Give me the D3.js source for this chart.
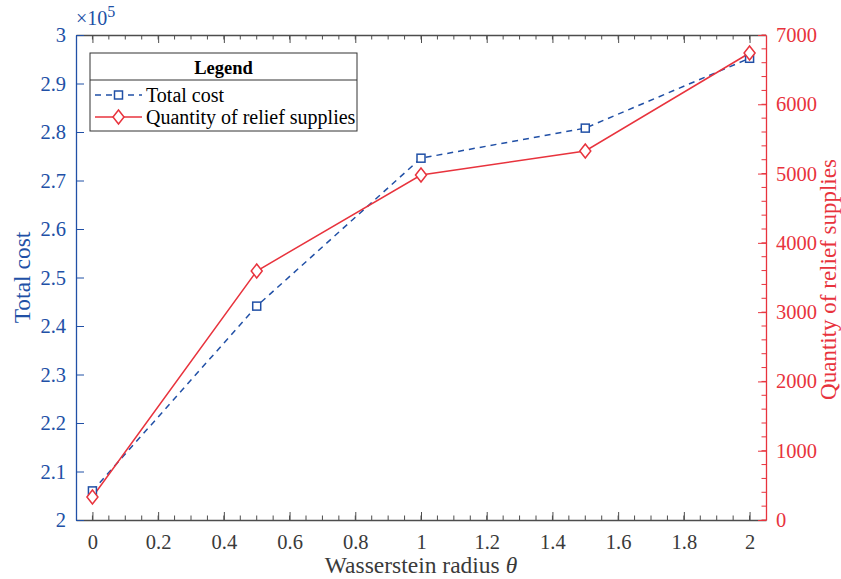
<!DOCTYPE html>
<html>
<head>
<meta charset="utf-8">
<script src="https://cdn.jsdelivr.net/npm/d3@7"></script>
<style>
  body { margin: 0; background: #fff; }
  text { font-family: "Liberation Serif", "Times New Roman", Tinos, "DejaVu Serif", serif; }
</style>
</head>
<body>
<div id="chart"></div>
<script>
// data
const radius = [0, 0.5, 1, 1.5, 2];
const totalCost = [2.06, 2.441, 2.746, 2.808, 2.952];   // x 10^5
const quantity = [332, 3594, 4979, 5326, 6740];
const xTicks = [0, 0.2, 0.4, 0.6, 0.8, 1, 1.2, 1.4, 1.6, 1.8, 2];
const leftTicks = [2, 2.1, 2.2, 2.3, 2.4, 2.5, 2.6, 2.7, 2.8, 2.9, 3];
const rightTicks = [0, 1000, 2000, 3000, 4000, 5000, 6000, 7000];

const BLUE = "#2150a6";
const RED = "#e8333d";
const GREY = "#4d4d4d";
const FONT = "'Liberation Serif', 'Times New Roman', Tinos, 'DejaVu Serif', serif";

const width = 841, height = 579;
const margin = {left: 76, right: 75, top: 35, bottom: 59};
const innerW = width - margin.left - margin.right;
const innerH = height - margin.top - margin.bottom;

const svg = d3.select("#chart").append("svg")
  .attr("width", width)
  .attr("height", height);

const g = svg.append("g")
  .attr("transform", `translate(${margin.left},${margin.top})`);

const x = d3.scaleLinear().domain([-0.05, 2.05]).range([0, innerW]);
const yL = d3.scaleLinear().domain([2, 3]).range([innerH, 0]);
const yR = d3.scaleLinear().domain([0, 7000]).range([innerH, 0]);

// x minor ticks, bottom and top
const xMinor = d3.range(0, 2.0001, 0.05);

function styleAxis(sel, color)
{
  sel.attr("font-family", null).attr("font-size", null);
  sel.select(".domain").attr("stroke", color).attr("stroke-width", 1.3);
  sel.selectAll(".tick line").attr("stroke", color);
  sel.selectAll(".tick text").attr("fill", color)
    .attr("font-family", FONT)
    .attr("font-size", 20.5);
}

// BOTTOM AXIS
const xBottom = g.append("g")
  .attr("transform", `translate(0,${innerH})`)
  .call(d3.axisBottom(x).tickValues(xTicks).tickSize(-8).tickSizeOuter(0).tickPadding(14)
    .tickFormat(d3.format("")));
styleAxis(xBottom, GREY);
xBottom.selectAll(".tick text").attr("fill", "#3a3a3a");

g.append("g")
  .attr("transform", `translate(0,${innerH})`)
  .selectAll("line")
  .data(xMinor)
  .join("line")
  .attr("x1", d => x(d)).attr("x2", d => x(d))
  .attr("y1", 0).attr("y2", -4.5)
  .attr("stroke", GREY);

// TOP AXIS
const xTop = g.append("g")
  .call(d3.axisTop(x).tickValues(xTicks).tickSize(-8).tickSizeOuter(0).tickFormat(""));
styleAxis(xTop, GREY);

g.append("g")
  .selectAll("line")
  .data(xMinor)
  .join("line")
  .attr("x1", d => x(d)).attr("x2", d => x(d))
  .attr("y1", 0).attr("y2", 4.5)
  .attr("stroke", GREY);

// LEFT AXIS
const yLeft = g.append("g")
  .call(d3.axisLeft(yL).tickValues(leftTicks).tickSize(-8).tickSizeOuter(0).tickPadding(10)
    .tickFormat(d => d === 2 || d === 3 ? d3.format("d")(d) : d3.format(".1f")(d)));
styleAxis(yLeft, BLUE);

g.append("text")
  .attr("x", 0)
  .attr("y", -10)
  .attr("fill", BLUE)
  .style("font-size", "20px")
  .html("×10<tspan dy='-8' font-size='16px'>5</tspan>");

// RIGHT AXIS
const yRight = g.append("g")
  .attr("transform", `translate(${innerW},0)`)
  .call(d3.axisRight(yR).tickValues(rightTicks).tickSize(-8).tickSizeOuter(0).tickPadding(10)
    .tickFormat(d3.format("d")));
styleAxis(yRight, RED);

const rightMinor = d3.range(0, 7001, 200);
g.append("g")
  .attr("transform", `translate(${innerW},0)`)
  .selectAll("line")
  .data(rightMinor)
  .join("line")
  .attr("x1", 0).attr("x2", -4.5)
  .attr("y1", d => yR(d)).attr("y2", d => yR(d))
  .attr("stroke", RED);

// AXIS LABELS
g.append("text")
  .attr("x", innerW / 2)
  .attr("y", innerH + 53)
  .attr("text-anchor", "middle")
  .attr("fill", "#3a3a3a")
  .style("font-size", "23.5px")
  .html("Wasserstein radius <tspan font-style='italic'>θ</tspan>");

g.append("text")
  .attr("transform", `translate(-46,${innerH / 2}) rotate(-90)`)
  .attr("text-anchor", "middle")
  .attr("fill", BLUE)
  .style("font-size", "23.5px")
  .text("Total cost");

g.append("text")
  .attr("transform", `translate(${innerW + 70},${innerH / 2 + 2}) rotate(-90)`)
  .attr("text-anchor", "middle")
  .attr("fill", RED)
  .style("font-size", "23px")
  .text("Quantity of relief supplies");

// LINES
const costData = radius.map((r, i) => ({x: r, y: totalCost[i]}));
const qtyData = radius.map((r, i) => ({x: r, y: quantity[i]}));

g.append("path")
  .datum(costData)
  .attr("fill", "none")
  .attr("stroke", BLUE)
  .attr("stroke-width", 1.5)
  .attr("stroke-dasharray", "6,5")
  .attr("d", d3.line().x(d => x(d.x)).y(d => yL(d.y)));

g.append("path")
  .datum(qtyData)
  .attr("fill", "none")
  .attr("stroke", RED)
  .attr("stroke-width", 1.5)
  .attr("d", d3.line().x(d => x(d.x)).y(d => yR(d.y)));

g.selectAll(".sq")
  .data(costData)
  .join("rect")
  .attr("x", d => x(d.x) - 4)
  .attr("y", d => yL(d.y) - 4)
  .attr("width", 8).attr("height", 8)
  .attr("fill", "white")
  .attr("stroke", BLUE)
  .attr("stroke-width", 1.5);

const diamond = "M0,-7L5.5,0L0,7L-5.5,0Z";
g.selectAll(".dm")
  .data(qtyData)
  .join("path")
  .attr("transform", d => `translate(${x(d.x)},${yR(d.y)})`)
  .attr("d", diamond)
  .attr("fill", "white")
  .attr("stroke", RED)
  .attr("stroke-width", 1.5);

// LEGEND
const legend = svg.append("g").attr("transform", "translate(90,53)");
const legW = 267, legH = 78;

legend.append("rect")
  .attr("width", legW).attr("height", legH)
  .attr("fill", "white").attr("stroke", "#333").attr("stroke-width", 1);
legend.append("line")
  .attr("x1", 0).attr("x2", legW).attr("y1", 27).attr("y2", 27)
  .attr("stroke", "#333");
legend.append("text")
  .attr("x", legW / 2).attr("y", 21)
  .attr("text-anchor", "middle")
  .attr("font-weight", "bold")
  .style("font-size", "18.5px")
  .text("Legend");

legend.append("line")
  .attr("x1", 5).attr("x2", 52).attr("y1", 42).attr("y2", 42)
  .attr("stroke", BLUE).attr("stroke-width", 1.5).attr("stroke-dasharray", "6,5");
legend.append("rect")
  .attr("x", 24.5).attr("y", 38).attr("width", 8).attr("height", 8)
  .attr("fill", "white").attr("stroke", BLUE).attr("stroke-width", 1.5);
legend.append("text")
  .attr("x", 56).attr("y", 49)
  .style("font-size", "20px")
  .text("Total cost");

legend.append("line")
  .attr("x1", 5).attr("x2", 52).attr("y1", 64).attr("y2", 64)
  .attr("stroke", RED).attr("stroke-width", 1.5);
legend.append("path")
  .attr("transform", "translate(28.5,64)")
  .attr("d", diamond)
  .attr("fill", "white").attr("stroke", RED).attr("stroke-width", 1.5);
legend.append("text")
  .attr("x", 56).attr("y", 71)
  .style("font-size", "20px")
  .text("Quantity of relief supplies");
</script>
</body>
</html>
